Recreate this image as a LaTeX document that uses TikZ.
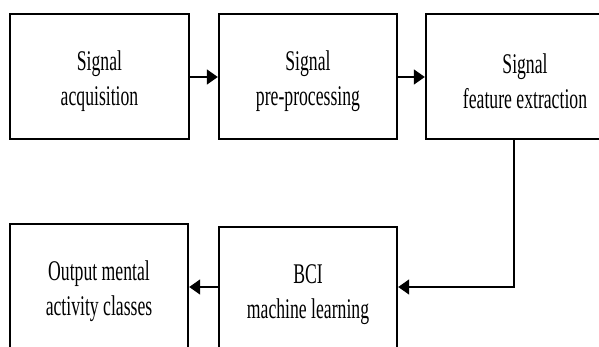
\documentclass[tikz,border=0pt]{standalone}
\usepackage{fontspec}
\newfontfamily\boxfont[FakeStretch=0.62]{Liberation Serif}
\usetikzlibrary{arrows.meta}
\newcommand\topstrut{\rule{0pt}{29pt}}
\begin{document}
\begin{tikzpicture}[x=1pt,y=-1pt,
  blockbox/.style={draw=black, line width=2.4pt, fill=white, minimum height=125pt,
    inner sep=0pt, align=center, font=\boxfont\fontsize{28.5}{35}\selectfont},
  flow/.style={line width=1.6pt, -{Triangle[length=11pt,width=15pt]}}]
\useasboundingbox (0,0) rectangle (599,347);
\clip (0,0) rectangle (599,347);
\node[blockbox, minimum width=179pt] (acq) at (99.5,76.5) {\topstrut Signal\\acquisition};
\node[blockbox, minimum width=178pt] (pre) at (308,76.5) {\topstrut Signal\\pre-processing};
\node[blockbox, minimum width=198pt] (feat) at (525,76.5) {\topstrut Signal\\feature extraction};
\node[blockbox, minimum width=178pt] (out) at (99,286.5) {\topstrut Output mental\\activity classes};
\node[blockbox, minimum width=178pt] (bci) at (308,289.5) {\topstrut BCI\\machine learning};
\draw[flow] (acq.east |- 0,77) -- (pre.west |- 0,77);
\draw[flow] (pre.east |- 0,77) -- (feat.west |- 0,77);
\draw[flow] (feat.south -| 514,0) |- (bci.east |- 0,287);
\draw[flow] (bci.west |- 0,287) -- (out.east |- 0,287);
\end{tikzpicture}
\end{document}
